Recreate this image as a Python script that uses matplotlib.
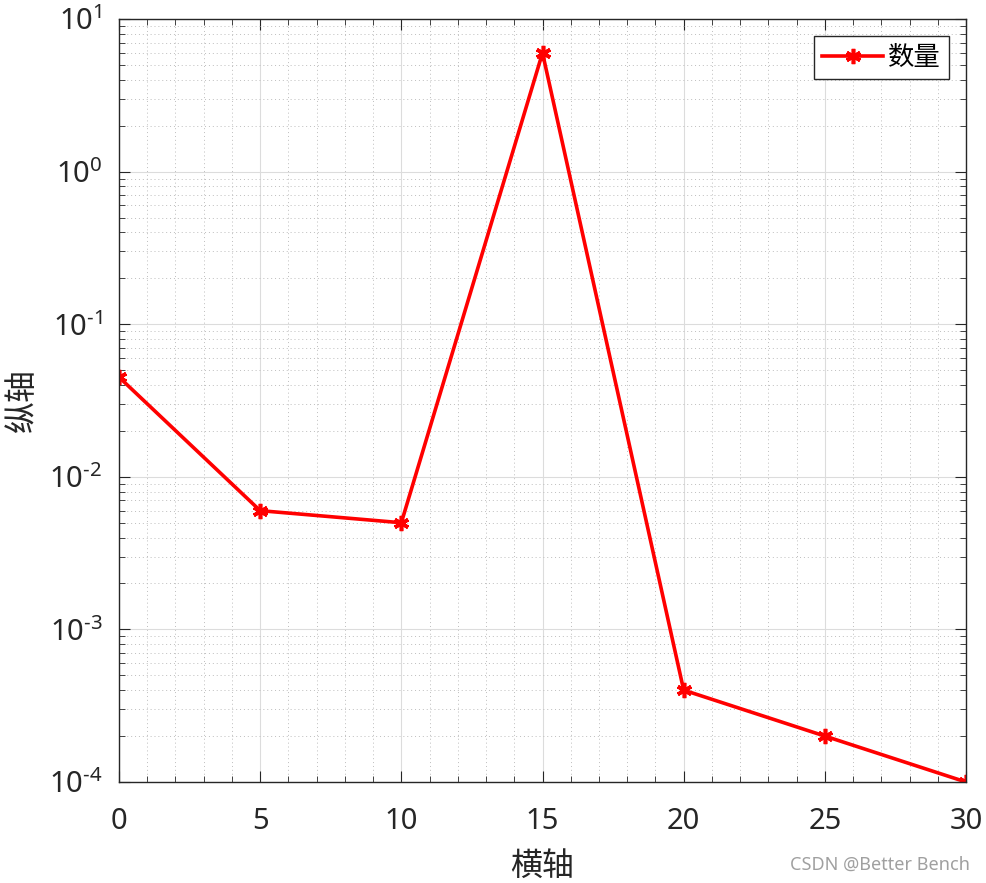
import matplotlib
matplotlib.use('Agg')
from matplotlib import pyplot as plt
from matplotlib.ticker import LogLocator, MultipleLocator
import numpy as np

plt.rcParams['font.family'] = ['Noto Sans', 'Noto Sans CJK SC', 'DejaVu Sans']
plt.rcParams['mathtext.fontset'] = 'custom'
plt.rcParams['mathtext.rm'] = 'Noto Sans'
plt.rcParams['mathtext.it'] = 'Noto Sans'
plt.rcParams['mathtext.default'] = 'rm'

# data
x = [0, 5, 10, 15, 20, 25, 30]
y = [0.045, 0.006, 0.005, 6.0, 0.0004, 0.0002, 0.0001]
xticks = [0, 5, 10, 15, 20, 25, 30]
ydecades = [-4, -3, -2, -1, 0, 1]

fig = plt.figure(figsize=(9.86, 8.83), dpi=100)
ax = fig.add_axes([119/986, 1-782/883, (966-119)/986, (782-19)/883])

ax.plot(x, y, color='red', linewidth=2.6, marker=(6, 2, 0), markersize=11,
        markeredgewidth=2.6, label='数量')

ax.set_yscale('log')
ax.set_xlim(0, 30)
ax.set_ylim(1e-4, 1e1)

ax.set_xticks(xticks)
ax.set_xticklabels([str(t) for t in xticks])
ax.xaxis.set_minor_locator(MultipleLocator(1))
ax.set_yticks([10.0**d for d in ydecades])
# hyphen (U+2010) instead of minus, as in the original
ax.set_yticklabels(['$10^{%s}$' % str(d).replace('-', '\u2010') for d in ydecades])
ax.yaxis.set_minor_locator(LogLocator(base=10, subs=np.arange(2, 10)))

ax.tick_params(which='both', direction='in', top=True, right=True, colors='#262626')
ax.tick_params(which='major', length=8, width=0.8, labelsize=21)
ax.tick_params(axis='x', which='major', pad=18)
ax.tick_params(axis='y', which='major', pad=12)
ax.tick_params(which='minor', length=4, width=0.6)

ax.grid(which='major', color='#dcdcdc', linestyle='-', linewidth=0.8)
ax.grid(which='minor', color='#bdbdbd', linestyle=(0, (1, 3)), linewidth=0.7)
ax.set_axisbelow(True)
for s in ax.spines.values():
    s.set_color('#262626')
    s.set_linewidth(1.0)

ax.set_xlabel('横轴', fontsize=23, color='#262626', family=['Noto Sans CJK SC'], labelpad=10)
ax.set_ylabel('纵轴', fontsize=23, color='#262626', family=['Noto Sans CJK SC'], labelpad=8)

leg = ax.legend(loc='upper right', fancybox=False, framealpha=1,
                edgecolor='#262626', handlelength=2.3, handletextpad=0.2,
                borderpad=0.3, borderaxespad=0.65,
                prop={'family': ['Noto Sans CJK SC'], 'size': 19})
leg.get_frame().set_linewidth(1.0)

fig.text(970/986, 1-865/883, 'CSDN @Better Bench', ha='right', va='center',
         fontsize=13, color='#a0a0a0')

plt.savefig('out.png', dpi=100)
